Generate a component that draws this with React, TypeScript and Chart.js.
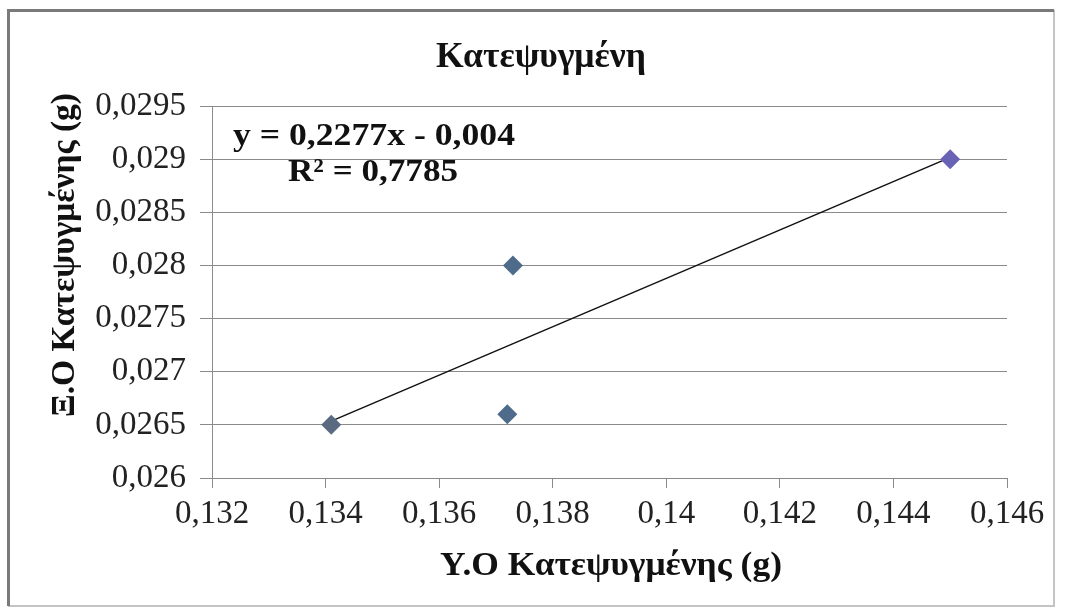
import { useEffect, useRef } from 'react';
import { Chart, registerables } from 'chart.js';

Chart.register(...registerables);

// ---- data ----
const xValues = [0.1341, 0.1373, 0.1372, 0.145];
const yValues = [0.0265, 0.028, 0.0266, 0.029];
const pointColors = ['#5a6a80', '#4f6b8b', '#4f6b8b', '#6a63b5'];
const trendX = [0.1341, 0.145];
const trendSlope = 0.2277;
const trendIntercept = -0.004;
const xTickValues = [0.132, 0.134, 0.136, 0.138, 0.14, 0.142, 0.144, 0.146];
const xTickLabels = ['0,132', '0,134', '0,136', '0,138', '0,14', '0,142', '0,144', '0,146'];
const yTickValues = [0.026, 0.0265, 0.027, 0.0275, 0.028, 0.0285, 0.029, 0.0295];
const yTickLabels = ['0,026', '0,0265', '0,027', '0,0275', '0,028', '0,0285', '0,029', '0,0295'];
const chartTitle = 'Κατεψυγμένη';
const xTitle = 'Υ.Ο Κατεψυγμένης (g)';
const yTitle = 'Ξ.Ο Κατεψυγμένης (g)';
const equationLines = ['y = 0,2277x - 0,004', 'R² = 0,7785'];

const FAMILY = '"Liberation Serif", "Times New Roman", serif';

function drawFit(ctx: CanvasRenderingContext2D, text: string, x: number, y: number, width: number, font: string, rot = 0) {
  ctx.save();
  ctx.font = font;
  ctx.textAlign = 'left';
  ctx.textBaseline = 'alphabetic';
  const w = ctx.measureText(text).width;
  ctx.translate(x, y);
  if (rot) ctx.rotate(rot);
  ctx.scale(width / w, 1);
  ctx.fillText(text, 0, 0);
  ctx.restore();
}

const decor = {
  id: 'decor',
  beforeDraw(chart: any) {
    const ctx = chart.ctx as CanvasRenderingContext2D;
    ctx.save();
    ctx.fillStyle = '#ffffff';
    ctx.fillRect(0, 0, chart.width, chart.height);
    // outer frame
    ctx.strokeStyle = '#c4c4c4';
    ctx.lineWidth = 2;
    ctx.beginPath();
    ctx.moveTo(1054, 10);
    ctx.lineTo(1054, 606);
    ctx.lineTo(8, 606);
    ctx.stroke();
    ctx.strokeStyle = '#7a7a7a';
    ctx.lineWidth = 3;
    ctx.beginPath();
    ctx.moveTo(8.5, 606);
    ctx.lineTo(8.5, 10.5);
    ctx.lineTo(1054, 10.5);
    ctx.stroke();
    ctx.restore();
  },
  afterDraw(chart: any) {
    const ctx = chart.ctx as CanvasRenderingContext2D;
    ctx.save();
    ctx.fillStyle = '#111';
    drawFit(ctx, chartTitle, 436, 67, 210, `bold 36px ${FAMILY}`);
    drawFit(ctx, xTitle, 440, 575, 342, `bold 33px ${FAMILY}`);
    drawFit(ctx, yTitle, 74, 417, 324, `bold 33px ${FAMILY}`, -Math.PI / 2);
    drawFit(ctx, equationLines[0], 233, 145, 282, `bold 32px ${FAMILY}`);
    drawFit(ctx, equationLines[1], 288, 181, 170, `bold 32px ${FAMILY}`);
    ctx.restore();
  },
};

export default function App() {
  const ref = useRef<HTMLCanvasElement>(null);
  useEffect(() => {
    const canvas = ref.current!;
    const points = xValues.map((x, i) => ({ x, y: yValues[i] }));
    const trend = trendX.map((x) => ({ x, y: trendSlope * x + trendIntercept }));
    const tickFont = { family: FAMILY, size: 33 };
    const chart = new Chart(canvas, {
      type: 'scatter',
      data: {
        datasets: [
          {
            data: points,
            pointStyle: 'rectRot',
            pointRadius: 10,
            pointBackgroundColor: pointColors,
            pointBorderColor: pointColors,
            pointBorderWidth: 0,
            order: 0,
          } as any,
          {
            data: trend,
            showLine: true,
            borderColor: '#111',
            borderWidth: 1.5,
            pointRadius: 0,
            order: 1,
          } as any,
        ],
      },
      options: {
        animation: false,
        responsive: false,
        layout: { padding: { left: 0, top: 106, right: 58, bottom: 0 } },
        plugins: {
          legend: { display: false },
          tooltip: { enabled: false },
          title: { display: false },
        },
        scales: {
          x: {
            type: 'linear',
            min: 0.132,
            max: 0.146,
            afterBuildTicks: (s: any) => {
              s.ticks = xTickValues.map((v) => ({ value: v }));
            },
            afterFit: (s: any) => {
              s.height = 130;
            },
            ticks: {
              callback: (_v: any, i: number) => xTickLabels[i],
              font: tickFont,
              color: '#222',
              padding: 7,
              maxRotation: 0,
              autoSkip: false,
            },
            grid: { drawOnChartArea: false, drawTicks: true, tickLength: 10, color: '#8a8a8a' },
            border: { color: '#8a8a8a' },
          },
          y: {
            type: 'linear',
            min: 0.026,
            max: 0.0295,
            afterBuildTicks: (s: any) => {
              s.ticks = yTickValues.map((v) => ({ value: v }));
            },
            afterFit: (s: any) => {
              s.width = 212;
            },
            ticks: {
              callback: (_v: any, i: number) => yTickLabels[i],
              font: tickFont,
              color: '#222',
              padding: 14,
              autoSkip: false,
            },
            grid: { color: '#8a8a8a', tickLength: 12 },
            border: { color: '#8a8a8a' },
          },
        },
      } as any,
      plugins: [decor],
    });
    return () => chart.destroy();
  }, []);
  return (
    <div style={{ position: 'absolute', left: 0, top: 0, width: 1065, height: 608, background: '#fff' }}>
      <canvas ref={ref} width={1065} height={608} style={{ display: 'block', width: 1065, height: 608 }} />
    </div>
  );
}
